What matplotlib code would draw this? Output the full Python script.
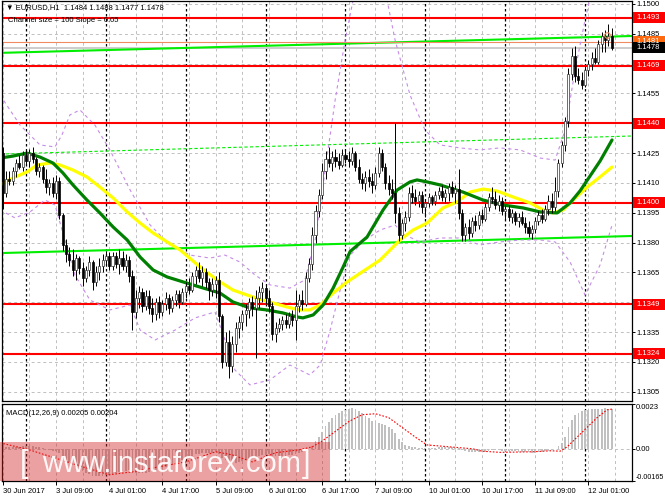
import matplotlib.pyplot as plt
from matplotlib.patches import Rectangle
from matplotlib.transforms import blended_transform_factory
import numpy as np

plt.rcParams['font.family'] = ['Liberation Sans', 'DejaVu Sans']

# ---------------- DATA ---------------- #
# EURUSD H1 candles, 30 Jun 2017 17:00 .. 12 Jul 2017 08:00 (bar index 0..183)
opens = [
    1.1425, 1.1405, 1.1412, 1.1411, 1.1416, 1.1420, 1.1418, 1.1424, 1.1421, 1.1425,
    1.1422, 1.1416, 1.1418, 1.1412, 1.1408, 1.1410, 1.1405, 1.1411, 1.1394, 1.1379,
    1.1374, 1.1371, 1.1366, 1.1372, 1.1367, 1.1362, 1.1366, 1.1370, 1.1360, 1.1365,
    1.1368, 1.1371, 1.1373, 1.1368, 1.1373, 1.1369, 1.1372, 1.1368, 1.1371, 1.1363,
    1.1345, 1.1352, 1.1355, 1.1348, 1.1353, 1.1347, 1.1344, 1.1350, 1.1345, 1.1349,
    1.1352, 1.1347, 1.1351, 1.1354, 1.1350, 1.1355, 1.1358, 1.1356, 1.1363, 1.1366,
    1.1362, 1.1365, 1.1360, 1.1356, 1.1359, 1.1361, 1.1343, 1.1320, 1.1330, 1.1318,
    1.1329, 1.1337, 1.1340, 1.1344, 1.1346, 1.1350, 1.1347, 1.1352, 1.1355, 1.1357,
    1.1352, 1.1348, 1.1334, 1.1337, 1.1339, 1.1341, 1.1339, 1.1343, 1.1341, 1.1348,
    1.1351, 1.1349, 1.1362, 1.1369, 1.1384, 1.1396, 1.1404, 1.1416, 1.1422, 1.1420,
    1.1423, 1.1421, 1.1419, 1.1424, 1.1422, 1.1421, 1.1425, 1.1418, 1.1412, 1.1410,
    1.1413, 1.1411, 1.1409, 1.1415, 1.1425, 1.1418, 1.1410, 1.1407, 1.1405, 1.1395,
    1.1384, 1.1390, 1.1393, 1.1405, 1.1403, 1.1401, 1.1404, 1.1398, 1.1400, 1.1403,
    1.1401, 1.1404, 1.1406, 1.1403, 1.1405, 1.1408, 1.1405, 1.1407, 1.1395, 1.1384,
    1.1388, 1.1385, 1.1391, 1.1389, 1.1394, 1.1392, 1.1398, 1.1403, 1.1402, 1.1399,
    1.1401, 1.1396, 1.1397, 1.1393, 1.1395, 1.1391, 1.1393, 1.1390, 1.1388, 1.1385,
    1.1387, 1.1391, 1.1394, 1.1392, 1.1397, 1.1401, 1.1398, 1.1406, 1.1420, 1.1429,
    1.1441, 1.1465, 1.1474, 1.1464, 1.1462, 1.1459, 1.1467, 1.1470, 1.1473, 1.1471,
    1.1480, 1.1484, 1.1482, 1.1484,
]
highs = [
    1.1428, 1.1416, 1.1416, 1.1418, 1.1422, 1.1424, 1.1426, 1.1427, 1.1427, 1.1428,
    1.1423, 1.1420, 1.1419, 1.1417, 1.1412, 1.1413, 1.1414, 1.1413, 1.1395, 1.1382,
    1.1378, 1.1377, 1.1374, 1.1373, 1.1370, 1.1368, 1.1373, 1.1371, 1.1368, 1.1372,
    1.1374, 1.1376, 1.1375, 1.1375, 1.1375, 1.1377, 1.1376, 1.1374, 1.1373, 1.1366,
    1.1356, 1.1358, 1.1357, 1.1356, 1.1356, 1.1352, 1.1352, 1.1353, 1.1351, 1.1355,
    1.1354, 1.1353, 1.1356, 1.1356, 1.1357, 1.1360, 1.1362, 1.1365, 1.1368, 1.1370,
    1.1368, 1.1367, 1.1362, 1.1362, 1.1363, 1.1365, 1.1344, 1.1335, 1.1336, 1.1333,
    1.1340, 1.1343, 1.1346, 1.1349, 1.1352, 1.1353, 1.1356, 1.1358, 1.1360, 1.1359,
    1.1356, 1.1350, 1.1340, 1.1342, 1.1343, 1.1344, 1.1345, 1.1346, 1.1356, 1.1354,
    1.1356, 1.1365, 1.1372, 1.1388, 1.1399, 1.1407, 1.1420, 1.1426, 1.1428, 1.1426,
    1.1427, 1.1425, 1.1427, 1.1427, 1.1426, 1.1428, 1.1426, 1.1422, 1.1415, 1.1416,
    1.1417, 1.1415, 1.1418, 1.1428, 1.1427, 1.1420, 1.1414, 1.1412, 1.1440, 1.1398,
    1.1392, 1.1396, 1.1408, 1.1409, 1.1407, 1.1406, 1.1406, 1.1402, 1.1405, 1.1404,
    1.1406, 1.1408, 1.1409, 1.1407, 1.1410, 1.1411, 1.1409, 1.1417, 1.1397, 1.1390,
    1.1392, 1.1393, 1.1394, 1.1396, 1.1397, 1.1400, 1.1405, 1.1408, 1.1406, 1.1404,
    1.1403, 1.1399, 1.1399, 1.1397, 1.1396, 1.1395, 1.1396, 1.1393, 1.1391, 1.1389,
    1.1393, 1.1396, 1.1397, 1.1399, 1.1404, 1.1405, 1.1413, 1.1422, 1.1431, 1.1443,
    1.1468, 1.1478, 1.1479, 1.1468, 1.1466, 1.1469, 1.1472, 1.1476, 1.1478, 1.1482,
    1.1486, 1.1487, 1.1490, 1.1488,
]
lows = [
    1.1397, 1.1403, 1.1409, 1.1409, 1.1413, 1.1417, 1.1416, 1.1419, 1.1418, 1.1420,
    1.1414, 1.1413, 1.1410, 1.1405, 1.1404, 1.1403, 1.1402, 1.1392, 1.1376, 1.1370,
    1.1368, 1.1363, 1.1361, 1.1364, 1.1358, 1.1360, 1.1363, 1.1356, 1.1358, 1.1361,
    1.1365, 1.1368, 1.1366, 1.1366, 1.1367, 1.1364, 1.1366, 1.1365, 1.1360, 1.1336,
    1.1342, 1.1347, 1.1345, 1.1346, 1.1344, 1.1340, 1.1341, 1.1342, 1.1343, 1.1346,
    1.1344, 1.1345, 1.1348, 1.1347, 1.1349, 1.1352, 1.1354, 1.1355, 1.1359, 1.1360,
    1.1358, 1.1357, 1.1351, 1.1353, 1.1352, 1.1340, 1.1317, 1.1318, 1.1312, 1.1315,
    1.1325, 1.1332, 1.1336, 1.1338, 1.1342, 1.1343, 1.1322, 1.1347, 1.1350, 1.1349,
    1.1345, 1.1331, 1.1330, 1.1335, 1.1336, 1.1337, 1.1337, 1.1338, 1.1331, 1.1345,
    1.1346, 1.1348, 1.1360, 1.1366, 1.1380, 1.1393, 1.1402, 1.1412, 1.1418, 1.1416,
    1.1418, 1.1417, 1.1418, 1.1420, 1.1418, 1.1419, 1.1416, 1.1410, 1.1407, 1.1406,
    1.1408, 1.1405, 1.1407, 1.1413, 1.1416, 1.1407, 1.1404, 1.1402, 1.1390, 1.1381,
    1.1382, 1.1386, 1.1391, 1.1400, 1.1399, 1.1398, 1.1395, 1.1393, 1.1398, 1.1399,
    1.1399, 1.1402, 1.1401, 1.1400, 1.1401, 1.1403, 1.1400, 1.1392, 1.1381, 1.1381,
    1.1382, 1.1383, 1.1386, 1.1387, 1.1390, 1.1391, 1.1396, 1.1400, 1.1397, 1.1396,
    1.1394, 1.1392, 1.1391, 1.1390, 1.1389, 1.1388, 1.1389, 1.1385, 1.1383, 1.1382,
    1.1385, 1.1389, 1.1390, 1.1391, 1.1394, 1.1395, 1.1396, 1.1403, 1.1418, 1.1426,
    1.1438, 1.1462, 1.1461, 1.1460, 1.1457, 1.1458, 1.1464, 1.1467, 1.1470, 1.1470,
    1.1476, 1.1476, 1.1479, 1.1477,
]
closes = [
    1.1405, 1.1412, 1.1411, 1.1416, 1.1420, 1.1418, 1.1424, 1.1421, 1.1425, 1.1422,
    1.1416, 1.1418, 1.1412, 1.1408, 1.1410, 1.1405, 1.1411, 1.1394, 1.1379, 1.1374,
    1.1371, 1.1366, 1.1372, 1.1367, 1.1362, 1.1366, 1.1370, 1.1360, 1.1365, 1.1368,
    1.1371, 1.1373, 1.1368, 1.1373, 1.1369, 1.1372, 1.1368, 1.1371, 1.1363, 1.1345,
    1.1352, 1.1355, 1.1348, 1.1353, 1.1347, 1.1344, 1.1350, 1.1345, 1.1349, 1.1352,
    1.1347, 1.1351, 1.1354, 1.1350, 1.1355, 1.1358, 1.1356, 1.1363, 1.1366, 1.1362,
    1.1365, 1.1360, 1.1356, 1.1359, 1.1361, 1.1343, 1.1320, 1.1330, 1.1318, 1.1329,
    1.1337, 1.1340, 1.1344, 1.1346, 1.1350, 1.1347, 1.1352, 1.1355, 1.1357, 1.1352,
    1.1348, 1.1334, 1.1337, 1.1339, 1.1341, 1.1339, 1.1343, 1.1341, 1.1348, 1.1351,
    1.1349, 1.1362, 1.1369, 1.1384, 1.1396, 1.1404, 1.1416, 1.1422, 1.1420, 1.1423,
    1.1421, 1.1419, 1.1424, 1.1422, 1.1421, 1.1425, 1.1418, 1.1412, 1.1410, 1.1413,
    1.1411, 1.1409, 1.1415, 1.1425, 1.1418, 1.1410, 1.1407, 1.1405, 1.1395, 1.1384,
    1.1390, 1.1393, 1.1405, 1.1403, 1.1401, 1.1404, 1.1398, 1.1400, 1.1403, 1.1401,
    1.1404, 1.1406, 1.1403, 1.1405, 1.1408, 1.1405, 1.1407, 1.1395, 1.1384, 1.1388,
    1.1385, 1.1391, 1.1389, 1.1394, 1.1392, 1.1398, 1.1403, 1.1402, 1.1399, 1.1401,
    1.1396, 1.1397, 1.1393, 1.1395, 1.1391, 1.1393, 1.1390, 1.1388, 1.1385, 1.1387,
    1.1391, 1.1394, 1.1392, 1.1397, 1.1401, 1.1398, 1.1406, 1.1420, 1.1429, 1.1441,
    1.1465, 1.1474, 1.1464, 1.1462, 1.1459, 1.1467, 1.1470, 1.1473, 1.1471, 1.1480,
    1.1484, 1.1482, 1.1484, 1.1478,
]

# MACD(12,26,9) main line, one value per bar
macd_main = [
    0.00012, 0.00010, 0.00008, 0.00008, 0.00010, 0.00010, 0.00012, 0.00012, 0.00014, 0.00013,
    0.00010, 0.00007, 0.00003, -0.00002, -0.00006, -0.00010, -0.00010, -0.00020, -0.00038, -0.00055,
    -0.00070, -0.00085, -0.00095, -0.00105, -0.00115, -0.00125, -0.00130, -0.00138, -0.00140, -0.00140,
    -0.00138, -0.00135, -0.00132, -0.00128, -0.00124, -0.00120, -0.00116, -0.00112, -0.00110, -0.00122,
    -0.00126, -0.00125, -0.00125, -0.00122, -0.00120, -0.00118, -0.00112, -0.00106, -0.00100, -0.00092,
    -0.00088, -0.00080, -0.00072, -0.00066, -0.00058, -0.00050, -0.00044, -0.00036, -0.00028, -0.00024,
    -0.00020, -0.00019, -0.00020, -0.00019, -0.00017, -0.00028, -0.00048, -0.00058, -0.00070, -0.00074,
    -0.00072, -0.00068, -0.00064, -0.00058, -0.00052, -0.00048, -0.00044, -0.00038, -0.00033, -0.00030,
    -0.00029, -0.00036, -0.00038, -0.00038, -0.00037, -0.00036, -0.00034, -0.00032, -0.00027, -0.00022,
    -0.00018, -0.00010, 0.00000, 0.00015, 0.00038, 0.00060, 0.00088, 0.00115, 0.00138, 0.00157,
    0.00172, 0.00183, 0.00193, 0.00200, 0.00205, 0.00210, 0.00205, 0.00195, 0.00182, 0.00170,
    0.00158, 0.00145, 0.00135, 0.00132, 0.00125, 0.00120, 0.00110, 0.00100, 0.00080, 0.00052,
    0.00035, 0.00022, 0.00015, 0.00010, 0.00008, 0.00006, 0.00004, 0.00003, 0.00004, 0.00005,
    0.00006, 0.00007, 0.00007, 0.00008, 0.00008, 0.00007, 0.00006, 0.00002, -0.00006, -0.00010,
    -0.00015, -0.00017, -0.00018, -0.00018, -0.00018, -0.00016, -0.00011, -0.00008, -0.00008, -0.00008,
    -0.00009, -0.00010, -0.00010, -0.00012, -0.00013, -0.00014, -0.00015, -0.00016, -0.00018, -0.00020,
    -0.00020, -0.00018, -0.00015, -0.00013, -0.00010, -0.00005, 0.00000, 0.00012, 0.00030, 0.00060,
    0.00110, 0.00150, 0.00175, 0.00185, 0.00193, 0.00198, 0.00200, 0.00202, 0.00204, 0.00205,
    0.00206, 0.00207, 0.00206, 0.00205,
]
# MACD signal line, read at some bars
signal_bar = [-0.8, 8, 24, 32, 39, 47, 55, 64, 69, 75, 82, 89, 93, 96, 100, 104, 108,
              112, 116, 120, 124, 127.5, 134.4, 141.3, 144, 149.4, 159.4, 164.5, 167.5,
              169.6, 172.6, 175.6, 178.6, 181.6, 183.1]
signal_val = [0.00031, -0.00005, -0.00092, -0.00133, -0.00118, -0.00092, -0.00067, -0.00015,
              -0.00031, -0.00067, -0.00020, -0.00005, 0.00010, 0.00040, 0.00090, 0.00140,
              0.00175, 0.00180, 0.00160, 0.00110, 0.00060, 0.00020, 0.00010, 0.00000,
              -0.00012, -0.00018, -0.00015, -0.00010, -0.00012, 0.00010, 0.00060, 0.00110,
              0.00160, 0.00200, 0.00204]

# moving averages
ma_green_bar = [-0.8, 3.1, 7.3, 11.2, 15.1, 18.1, 21.1, 25.3, 29.2, 33.2, 37.4, 41.3, 45.2,
                49.4, 54.2, 59.3, 65.3, 69.2, 74.3, 79.4, 84.2, 88.4, 90.2, 93.3, 96.3, 99.3,
                102.3, 104.4, 109.5, 114.3, 118.5, 122.4, 124.5, 127.5, 131.4, 134.4, 138.3,
                144.3, 150.3, 156.4, 161.5, 166.6, 170.5, 173.5, 176.5, 179.5, 183.1]
ma_green = [1.14225, 1.14235, 1.14250, 1.14230, 1.14200, 1.14150, 1.14090, 1.14014, 1.13949,
            1.13878, 1.13813, 1.13727, 1.13662, 1.13627, 1.13602, 1.13576, 1.13546, 1.13501,
            1.13471, 1.13461, 1.13446, 1.13426, 1.13421, 1.13436, 1.13486, 1.13571, 1.13677,
            1.13755, 1.13828, 1.13964, 1.14064, 1.14105, 1.14115, 1.14105, 1.14090, 1.14074,
            1.14054, 1.14014, 1.13989, 1.13974, 1.13954, 1.13949, 1.13999, 1.14060, 1.14135,
            1.14210, 1.14316]
ma_yellow_bar = [-0.8, 3.1, 7.3, 10.3, 14.2, 17.2, 21.1, 25.3, 29.2, 33.2, 37.4, 41.3, 45.2,
                 49.4, 53.3, 59.3, 64.4, 69.2, 75.2, 81.2, 85.4, 89.3, 92.3, 95.4, 99.3, 103.5,
                 113.4, 119.4, 123.3, 127.5, 132.3, 136.5, 140.4, 144.3, 148.6, 153.4, 158.5,
                 162.4, 165.4, 168.4, 171.4, 175.6, 179.5, 183.1]
ma_yellow = [1.14090, 1.14125, 1.14155, 1.14190, 1.14200, 1.14190, 1.14165, 1.14130, 1.14079,
             1.14024, 1.13954, 1.13898, 1.13848, 1.13803, 1.13763, 1.13677, 1.13612, 1.13561,
             1.13526, 1.13496, 1.13476, 1.13461, 1.13461, 1.13486, 1.13546, 1.13602, 1.13712,
             1.13813, 1.13863, 1.13898, 1.13974, 1.14004, 1.14054, 1.14069, 1.14059, 1.14029,
             1.13999, 1.13964, 1.13949, 1.13964, 1.14014, 1.14079, 1.14130, 1.14180]

# bands (violet dashed)
band_up_bar = [-0.8, 5.2, 11.2, 15.7, 17.8, 20.2, 23.2, 27.7, 32.2, 38.3, 44.3, 50.3, 56.3,
               62.3, 66.8, 71.3, 75.8, 80.3, 86.3, 90.8, 93.9, 96.9, 99.9, 102.9, 105.9,
               114.9, 117.9, 122.4, 126.9, 131.4, 137.4, 143.4, 149.4, 155.5, 161.5, 166.0,
               169.0, 172.0, 175.0, 177.1]
band_up = [1.14542, 1.14391, 1.14291, 1.14281, 1.14341, 1.14442, 1.14467, 1.14391, 1.14266,
           1.14064, 1.13888, 1.13788, 1.13737, 1.13722, 1.13737, 1.13702, 1.13637, 1.13587,
           1.13571, 1.13612, 1.13813, 1.14165, 1.14517, 1.14819, 1.15070, 1.15070, 1.14819,
           1.14542, 1.14366, 1.14291, 1.14276, 1.14266, 1.14276, 1.14266, 1.14225, 1.14215,
           1.14366, 1.14668, 1.14920, 1.15070]
band_lo_bar = [-0.8, 3.7, 8.2, 12.7, 15.7, 18.7, 21.7, 26.2, 32.2, 38.3, 41.3, 45.8, 51.8,
               57.8, 63.8, 66.8, 69.8, 74.3, 80.3, 86.3, 89.3, 92.3, 95.4, 98.4, 101.4,
               104.4, 108.9, 113.4, 117.9, 120.9, 125.4, 131.4, 137.4, 143.4, 149.4, 155.5,
               161.5, 166.0, 170.5, 175.0, 179.5, 183.1]
band_lo = [1.13964, 1.13924, 1.13954, 1.14014, 1.13989, 1.13813, 1.13637, 1.13511, 1.13461,
           1.13486, 1.13360, 1.13310, 1.13360, 1.13421, 1.13451, 1.13310, 1.13159, 1.13084,
           1.13109, 1.13184, 1.13159, 1.13134, 1.13184, 1.13360, 1.13561, 1.13737, 1.13813,
           1.13863, 1.13888, 1.13838, 1.13803, 1.13823, 1.13823, 1.13788, 1.13803, 1.13813,
           1.13813, 1.13803, 1.13702, 1.13536, 1.13687, 1.13888]

# regression channel (Channel size = 100, ends of the lines)
chan_bar = [-0.8, 189.1]
chan_up = [1.14754, 1.14839]
chan_mid = [1.14245, 1.14336]
chan_lo = [1.13747, 1.13833]

levels = [1.1493, 1.1469, 1.1440, 1.1400, 1.1349, 1.1324]
ask_price = 1.1481
bid_price = 1.1478

time_labels = ["30 Jun 2017", "3 Jul 09:00", "4 Jul 01:00", "4 Jul 17:00", "5 Jul 09:00",
               "6 Jul 01:00", "6 Jul 17:00", "7 Jul 09:00", "10 Jul 01:00", "10 Jul 17:00",
               "11 Jul 09:00", "12 Jul 01:00"]
day_starts = [7, 31, 55, 79, 103, 127, 151, 175]

# ---------------- FIGURE ---------------- #
W, H = 665, 499
fig = plt.figure(figsize=(W / 100, H / 100), dpi=100)


def px_rect(x0, y0, x1, y1):
    return [x0 / W, 1 - y1 / H, (x1 - x0) / W, (y1 - y0) / H]


ax = fig.add_axes(px_rect(2, 1, 632, 401))
axm = fig.add_axes(px_rect(2, 404, 632, 481))

x_lo, x_hi = -0.21, 189.1
ax.set_xlim(x_lo, x_hi)
axm.set_xlim(x_lo, x_hi)
ax.set_ylim(1.13003, 1.15015)
axm.set_ylim(-0.00165, 0.0023)

grid_kw = dict(color='#c0c0c0', lw=0.7, ls=(0, (3, 3)), zorder=0)
sep_kw = dict(color='black', lw=0.9, ls=(0, (2, 2)), zorder=0.5)
for a in (ax, axm):
    for g in range(0, 190, 8):
        a.axvline(g, **grid_kw)
    for d in day_starts:
        a.axvline(d, **sep_kw)
    for s in a.spines.values():
        s.set_linewidth(0.9)

price_ticks = np.round(np.arange(1.1305, 1.15001, 0.0015), 4)
for p in price_ticks:
    ax.axhline(p, **grid_kw)
axm.axhline(0, **grid_kw)

# channel
ax.plot(chan_bar, chan_up, color='#00ee00', lw=1.5, zorder=2)
ax.plot(chan_bar, chan_lo, color='#00ee00', lw=1.5, zorder=2)
ax.plot(chan_bar, chan_mid, color='#00ee00', lw=0.8, ls=(0, (3, 2)), zorder=2)

# support / resistance
for lv in levels:
    ax.axhline(lv, color='#ff0000', lw=1.5, zorder=2)
ax.axhline(ask_price, color='#f08a60', lw=0.8, zorder=2)
ax.axhline(bid_price, color='#cccccc', lw=1.4, zorder=1.5)

# bands
ax.plot(band_up_bar, band_up, color='#c58ce6', lw=0.8, ls=(0, (3, 3)), zorder=2.5)
ax.plot(band_lo_bar, band_lo, color='#c58ce6', lw=0.8, ls=(0, (3, 3)), zorder=2.5)

# moving averages
ax.plot(ma_yellow_bar, ma_yellow, color='#ffff00', lw=2.3, zorder=3, solid_capstyle='round')
ax.plot(ma_green_bar, ma_green, color='#008000', lw=2.3, zorder=3.2, solid_capstyle='round')

# candles
bars = np.arange(len(closes))
o = np.array(opens)
c = np.array(closes)
up = c >= o
ax.vlines(bars, lows, highs, color='black', lw=0.7, zorder=4)
body_lo = np.minimum(o, c)
body_h = np.maximum(np.abs(c - o), 0.00003)
ax.bar(bars[up], body_h[up], bottom=body_lo[up], width=0.62,
       facecolor='white', edgecolor='#333333', lw=0.5, zorder=5)
ax.bar(bars[~up], body_h[~up], bottom=body_lo[~up], width=0.62,
       facecolor='black', edgecolor='black', lw=0.5, zorder=5)

# small alert circle at the last highs
ax.plot([181.7], [1.14845], marker='o', ms=4, mfc='none', mec='#f08a60', mew=0.8, zorder=6)

# ---- price axis ---- #
ax.yaxis.tick_right()
ax.set_yticks(price_ticks)
hidden = {1.1470, 1.1440, 1.1350}
ax.set_yticklabels(['' if p in hidden else f'{p:.4f}' for p in price_ticks])
ax.tick_params(axis='y', length=2, width=0.7, pad=1.5, labelsize=5.5)
ax.set_xticks([])

trans = blended_transform_factory(ax.transAxes, ax.transData)
box_h = 0.00056
box_w = 33 / 630


def price_box(price, color):
    ax.add_patch(Rectangle((1.0015, price - box_h / 2), box_w, box_h, transform=trans,
                           facecolor=color, edgecolor='none', clip_on=False, zorder=10))
    ax.text(1.0065, price, f'{price:.4f}', transform=trans, color='white', fontsize=5.5,
            va='center', ha='left', clip_on=False, zorder=11)


for lv in levels:
    price_box(lv, '#ff0000')
price_box(ask_price, '#ff6a10')
price_box(bid_price, '#000000')

# ---- MACD ---- #
axm.bar(bars, macd_main, width=0.55, color='#c0c0c0', zorder=2)
axm.plot(signal_bar, signal_val, color='#ff0000', lw=0.8, ls=(0, (1.5, 1.5)), zorder=3)
axm.yaxis.tick_right()
axm.set_yticks([0.0023, 0.0, -0.00165])
axm.set_yticklabels(['0.0023', '0.00', '-0.00165'])
axm.tick_params(axis='y', length=2, width=0.7, pad=1.0, labelsize=5.5)
ylab = axm.get_yticklabels()
ylab[0].set_va('top')
ylab[2].set_va('bottom')
ylab[2].set_fontsize(5.1)

axm.set_xticks(np.arange(0, 177, 16))
axm.set_xticklabels(time_labels, ha='left', fontsize=5.5)
axm.tick_params(axis='x', length=3, width=0.7, pad=2)

axm.text(0.007, 0.88, 'MACD(12,26,9) 0.00205 0.00204', transform=axm.transAxes,
         fontsize=5.5, va='center', ha='left', zorder=6)

# ---- header texts ---- #
fig.text(6 / W, 1 - 8 / H, '\u25bc EURUSD,H1  1.1484 1.1488 1.1477 1.1478',
         fontsize=5.5, va='center', ha='left', family=['Liberation Sans', 'DejaVu Sans'])
fig.text(8 / W, 1 - 20 / H, 'Channel size = 100 Slope = 0.05', fontsize=5.5,
         va='center', ha='left')

# ---- watermark ---- #
fig.add_artist(Rectangle((0, 1 - 481 / H), 330 / W, 39 / H, transform=fig.transFigure,
                         facecolor=(0.82, 0.12, 0.12), alpha=0.42, edgecolor='none', zorder=20))
fig.text(20 / W, 1 - 464 / H, '[', color='white', fontsize=22, va='center', ha='left',
         zorder=21, alpha=0.92)
fig.text(42 / W, 1 - 464 / H, 'www.instaforex.com', color='white', fontsize=21,
         va='center', ha='left', zorder=21, alpha=0.92)
fig.text(302 / W, 1 - 464 / H, ']', color='white', fontsize=22, va='center', ha='left',
         zorder=21, alpha=0.92)

fig.savefig('out.png', dpi=100, facecolor='white')
